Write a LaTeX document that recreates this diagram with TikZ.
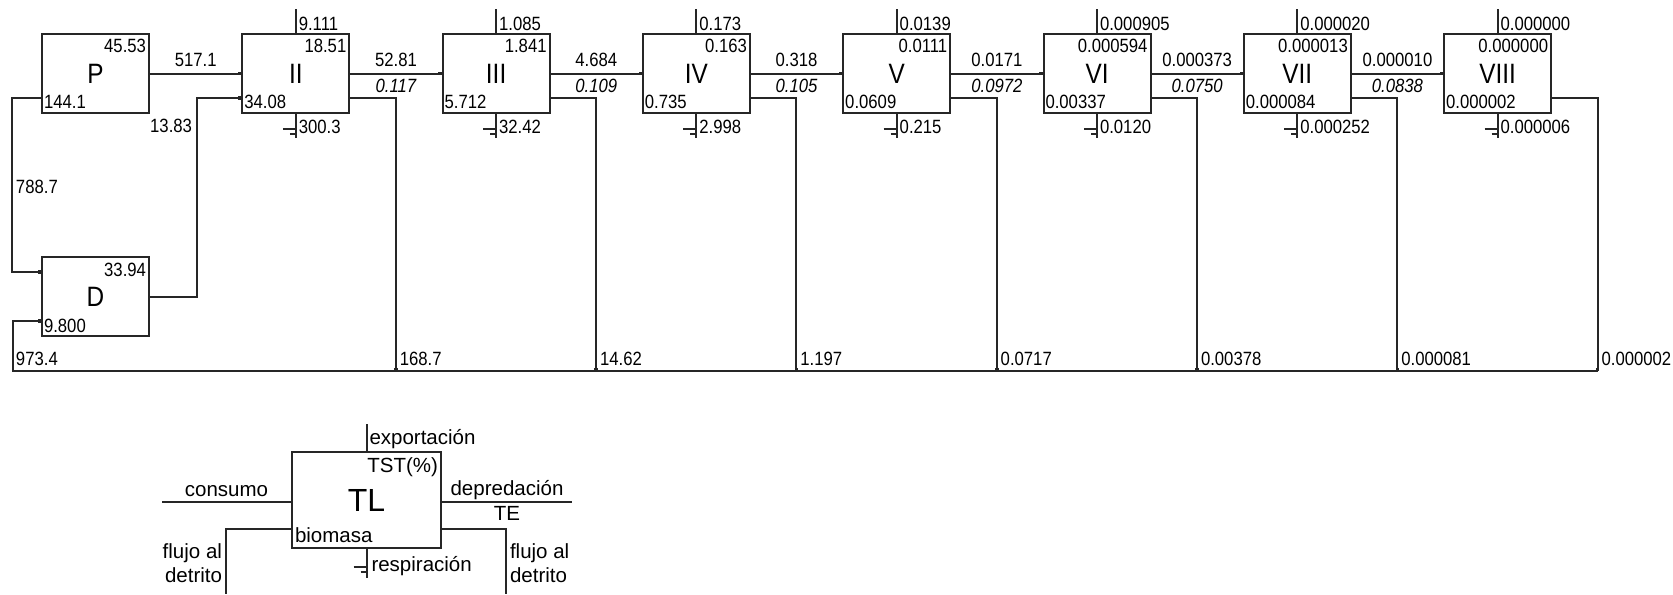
\documentclass[tikz,border=0pt]{standalone}
\usepackage{fontspec}
\setmainfont{Liberation Sans}
\newfontfamily\narrowfont[FakeStretch=0.87]{Liberation Sans}
\usetikzlibrary{arrows.meta}

\begin{document}
\begin{tikzpicture}
  [x=0.5pt, y=-0.5pt, line width=1pt, draw=black!85,
   box/.style = {draw, rectangle, minimum width=53.5pt,
     minimum height=39.5pt, inner sep=0pt, font=\narrowfont\fontsize{14}{16}\selectfont},
   num/.style = {inner sep=0pt, font=\narrowfont\fontsize{9.6}{11}\selectfont},
   leg/.style = {inner sep=0pt, font=\fontsize{10.25}{12}\selectfont},
   flow/.style = {-{Square[length=1.6pt,width=1.8pt]}},
   gnd/.pic = {\draw (-6.5pt,0) -- (0,0); \draw (-3pt,-2.25pt) -- (0,-2.25pt);}]
  \useasboundingbox (0,0) rectangle (1673,594);

  % compartimentos
  \foreach \i/\n/\tst/\bio in {0/P/45.53/144.1, 1/II/18.51/34.08,
      2/III/1.841/5.712, 3/IV/0.163/0.735, 4/V/0.0111/0.0609,
      5/VI/0.000594/0.00337, 6/VII/0.000013/0.000084,
      7/VIII/0.000000/0.000002} {
    \pgfmathsetmacro\cx{95.5+200.3*\i}
    \node[box] (b\i) at (\cx,73.5) {\n};
    \node[num, anchor=base east] (t\i) at ([shift={(-1.5pt,-9.5pt)}]b\i.north east) {\tst};
    \node[num, anchor=base west] (m\i) at ([shift={(1pt,3pt)}]b\i.south west) {\bio};
  }
  \node[box] (D) at (95.5,296.5) {D};
  \node[num, anchor=base east] (tD) at ([shift={(-1.5pt,-10pt)}]D.north east) {33.94};
  \node[num, anchor=base west] (mD) at ([shift={(1pt,2.5pt)}]D.south west) {9.800};

  % exportacion, respiracion y flujo al detrito
  \foreach \i/\ex/\rs/\det in {1/9.111/300.3/168.7, 2/1.085/32.42/14.62,
      3/0.173/2.998/1.197, 4/0.0139/0.215/0.0717,
      5/0.000905/0.0120/0.00378, 6/0.000020/0.000252/0.000081,
      7/0.000000/0.000006/0.000002} {
    \pgfmathsetmacro\dx{95.5+200.3*\i+100}
    \coordinate (d\i) at (\dx,371);
    \draw (b\i.north) -- ++(0,12pt);
    \node[num, anchor=base west] (e\i) at ([shift={(1pt,1.5pt)}]b\i.north) {\ex};
    \draw (b\i.south) -- ++(0,-12pt);
    \pic at ([yshift=-7.5pt]b\i.south) {gnd};
    \node[num, anchor=base west] (r\i) at ([shift={(1pt,-9.5pt)}]b\i.south) {\rs};
    \draw[flow] ([yshift=-12.25pt]b\i.east) -| (d\i);
    \node[num, anchor=base west] (l\i) at ([shift={(1.5pt,3pt)}]d\i) {\det};
  }

  % depredacion
  \draw[flow] (b0.east) -- (b1.west) node[num, midway, above=3pt] (f0) {517.1};
  \foreach \i/\f/\te in {1/52.81/0.117, 2/4.684/0.109, 3/0.318/0.105,
      4/0.0171/0.0972, 5/0.000373/0.0750, 6/0.000010/0.0838} {
    \pgfmathtruncatemacro\j{\i+1}
    \draw[flow] (b\i.east) -- (b\j.west)
      node[num, midway, above=3pt] (f\i) {\f}
      node[num, midway, anchor=base, yshift=-9.5pt] (te\i) {\itshape\te};
  }

  % detrito
  \coordinate (dL) at (13,371);
  \draw[flow] ([yshift=-12.25pt]b0.west) -- ++(-14.5pt,0) |- ([yshift=12.25pt]D.west);
  \node[num, anchor=base west] (lP) at (15,193) {788.7};
  \draw[flow] (D.east) -- ++(23.5pt,0) |- ([yshift=-12.25pt]b1.west);
  \node[num, anchor=base east] (lD) at (193,132) {13.83};
  \draw[flow] (d7) -- (dL) |- ([yshift=-12.25pt]D.west);
  \node[num, anchor=base west] (lL) at (15,365) {973.4};

  % leyenda
  \node[box, minimum width=74.5pt, minimum height=48pt,
    font=\fontsize{16}{18}\selectfont] (TL) at (366.5,500) {TL};
  \draw (TL.north) -- ++(0,13.5pt);
  \node[leg, anchor=base west] (lex) at ([shift={(1pt,3.5pt)}]TL.north) {exportación};
  \node[leg, anchor=base east] (ltst) at ([shift={(-1.5pt,-10.5pt)}]TL.north east) {TST(\%)};
  \draw ([yshift=-1pt]TL.west) -- ++(-64.5pt,0)
    node[leg, midway, anchor=base, yshift=3pt] (lcons) {consumo};
  \draw ([yshift=-1pt]TL.east) -- ++(65pt,0)
    node[leg, midway, anchor=base, yshift=3.5pt] (ldep) {depredación}
    node[leg, midway, anchor=base, yshift=-9pt] (lte) {TE};
  \coordinate (dtl) at (226,594);
  \coordinate (dtr) at (506,594);
  \draw ([yshift=-14.5pt]TL.west) -| (dtl);
  \draw ([yshift=-14.5pt]TL.east) -| (dtr);
  \node[leg, anchor=base east] (lfl1) at (223,558) {flujo al};
  \node[leg, anchor=base east] (lfl2) at (223,582) {detrito};
  \node[leg, anchor=base west] (lfr1) at (509,558) {flujo al};
  \node[leg, anchor=base west] (lfr2) at (509,582) {detrito};
  \node[leg, anchor=base west] (lbio) at ([shift={(1.5pt,3.5pt)}]TL.south west) {biomasa};
  \draw (TL.south) -- ++(0,-14.5pt);
  \pic at ([yshift=-9pt]TL.south) {gnd};
  \node[leg, anchor=base west] (lres) at ([shift={(2pt,-11pt)}]TL.south) {respiración};
\end{tikzpicture}
\end{document}
